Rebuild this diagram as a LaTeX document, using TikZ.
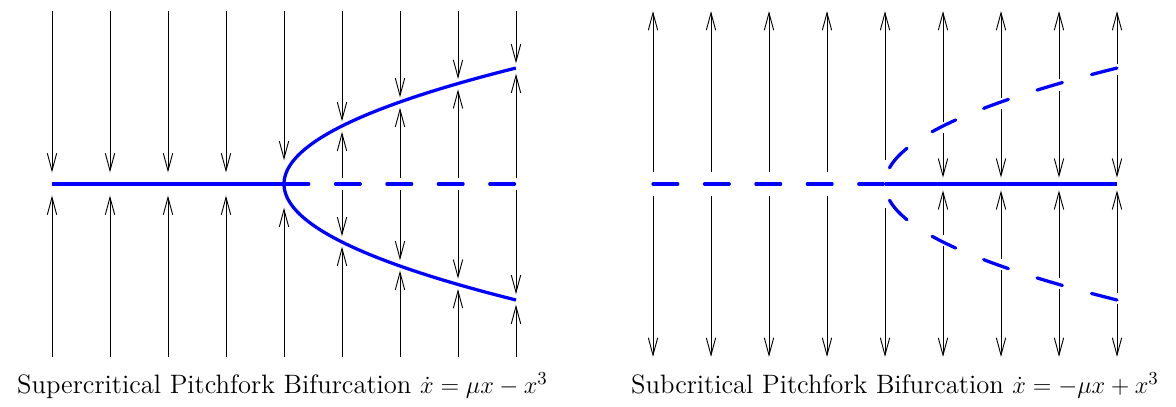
\documentclass[tikz,border=0pt]{standalone}
\usetikzlibrary{arrows.meta}
\begin{document}
\begin{tikzpicture}[x=1cm,y=1cm,
  flow/.style={line width=0.45pt, -{Straight Barb[length=8.5pt,width=4.6pt,line width=0.45pt]}},
  branch/.style={blue, line width=1.6pt},
  axdash/.style={branch, line cap=round, dash pattern=on 0.427cm off 0.46cm},
  curvedash/.style={branch, line cap=round, dash pattern=on 0.454cm off 0.521cm},
  caption/.style={anchor=base, inner sep=0pt, font=\fontsize{13.05}{15}\selectfont}]
\useasboundingbox (0,0) rectangle (20.2759,7);

% ---------------- Supercritical ----------------
\begin{scope}[shift={(4.8966,3.8276)}]
  \foreach \m in {-4,...,-1} {
    \draw[flow] (\m,2.98) -- (\m,0.2);
    \draw[flow] (\m,-2.98) -- (\m,-0.2);
  }
  \draw[flow] (0,2.98) -- (0,0.41);
  \draw[flow] (0,-2.98) -- (0,-0.41);
  \foreach \m in {1,...,4} {
    \pgfmathsetmacro\s{sqrt(\m)}
    \draw[flow] (\m,2.98) -- (\m,{\s+0.08});
    \draw[flow] (\m,0.1) -- (\m,{\s-0.1});
    \draw[flow] (\m,-0.1) -- (\m,{-\s+0.1});
    \draw[flow] (\m,-2.98) -- (\m,{-\s-0.08});
  }
  \draw[branch] (-4,0) -- (0,0);
  \draw[axdash] (0,0) -- (4,0);
  \draw[branch] plot[domain=-2:2, samples=101, smooth] ({\x*\x},{\x});
\end{scope}

% ---------------- Subcritical ----------------
\begin{scope}[shift={(15.2586,3.8276)}]
  \foreach \m in {-4,...,-1} {
    \draw[flow] (\m,0.2) -- (\m,2.98);
    \draw[flow] (\m,-0.2) -- (\m,-2.98);
  }
  \draw[flow] (0,0.41) -- (0,2.98);
  \draw[flow] (0,-0.41) -- (0,-2.98);
  \foreach \m in {1,...,4} {
    \pgfmathsetmacro\s{sqrt(\m)}
    \draw[flow] (\m,{\s+0.07}) -- (\m,2.98);
    \draw[flow] (\m,{\s-0.12}) -- (\m,0.11);
    \draw[flow] (\m,{-\s+0.12}) -- (\m,-0.11);
    \draw[flow] (\m,{-\s-0.07}) -- (\m,-2.98);
  }
  \draw[axdash] (-4,0) -- (0,0);
  \draw[branch] (0,0) -- (4,0);
  \draw[curvedash] plot[domain=2:0, samples=101, smooth] ({\x*\x},{\x});
  \draw[curvedash] plot[domain=-2:0, samples=101, smooth] ({\x*\x},{\x});
\end{scope}

\node[caption] (capL) at (4.871,0.224) {Supercritical Pitchfork Bifurcation $\dot{x} = \mu x - x^3$};
\node[caption] (capR) at (15.431,0.224) {Subcritical Pitchfork Bifurcation $\dot{x} = -\mu x + x^3$};
\end{tikzpicture}
\end{document}
